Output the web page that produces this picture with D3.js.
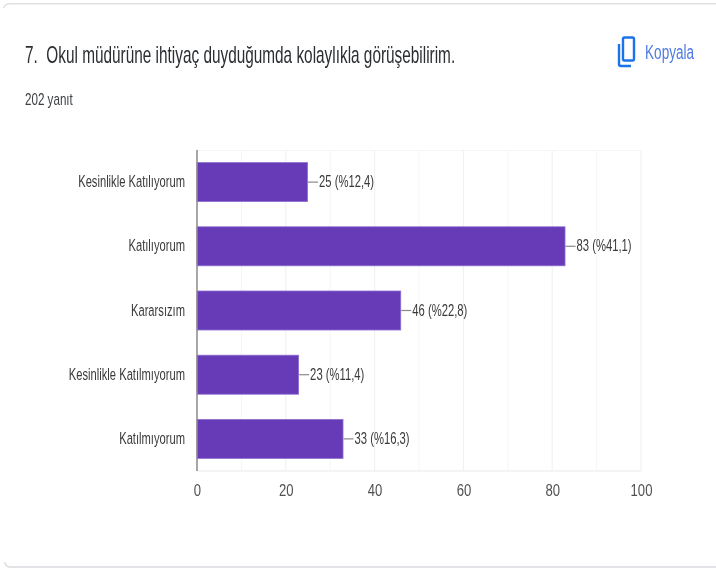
<!DOCTYPE html>
<html>
<head>
<meta charset="utf-8">
<script src="https://cdn.jsdelivr.net/npm/d3@7"></script>
<style>
  html, body { margin: 0; padding: 0; background: #fff; }
  svg { display: block; }
  text { font-family: "Liberation Sans", sans-serif; filter: blur(0.3px); }
</style>
</head>
<body>
<div id="chart"></div>
<script>
// responses per answer
const categories = ["Kesinlikle Katılıyorum", "Katılıyorum", "Kararsızım", "Kesinlikle Katılmıyorum", "Katılmıyorum"];
const counts = [25, 83, 46, 23, 33];
const percents = ["12,4", "41,1", "22,8", "11,4", "16,3"];
const majorTicks = [0, 20, 40, 60, 80, 100];
const gridTicks = [10, 20, 30, 40, 50, 60, 70, 80, 90, 100];

const W = 716, H = 568;
const M = { left: 197, right: 75, top: 150, bottom: 97 };

const svg = d3.select("#chart").append("svg").attr("width", W).attr("height", H);

// the reference text is squeezed sideways, no narrow font here so scale it
function squeezed(sel, px, py, sx) {
  return sel.attr("transform", `translate(${px},${py}) scale(${sx},1)`);
}

// card edges
svg.append("path").attr("d", `M${W} 3.7H10Q5 3.7 3.5 8`).attr("fill", "none").attr("stroke", "#e2e2e2").attr("stroke-width", 1.6);
svg.append("path").attr("d", `M${W} 567H10Q6 567 4.5 562`).attr("fill", "none").attr("stroke", "#e4e4e8").attr("stroke-width", 2);

// header
svg.append("text").call(squeezed, 25, 63, 0.668).attr("font-size", 23).attr("fill", "#2b2f33")
  .attr("xml:space", "preserve").text("7.  Okul müdürüne ihtiyaç duyduğumda kolaylıkla görüşebilirim.");
svg.append("text").call(squeezed, 25, 105, 0.727).attr("font-size", 16).attr("fill", "#3c4043").text("202 yanıt");

// copy icon
const icon = svg.append("g").attr("fill", "none").attr("stroke", "#1a73e8").attr("stroke-width", 2.4);
icon.append("rect").attr("x", 623).attr("y", 37.5).attr("width", 11).attr("height", 23).attr("rx", 1.5);
icon.append("path").attr("d", "M619 44v20q0 2 2 2h10");
svg.append("text").call(squeezed, 645, 59, 0.68).attr("font-size", 20).attr("fill", "#4f7be0").text("Kopyala");

const x = d3.scaleLinear().domain([0, 100]).range([M.left, W - M.right]);
const y = d3.scaleBand().domain(categories).range([M.top, H - M.bottom]).paddingInner(0.38).paddingOuter(0.19);

// grid + plot frame
const g = svg.append("g");
g.selectAll("line.grid").data(gridTicks).join("line").attr("class", "grid")
  .attr("x1", d => x(d)).attr("x2", d => x(d))
  .attr("y1", M.top).attr("y2", H - M.bottom)
  .attr("stroke", d => d % 20 === 0 ? "#efefef" : "#f5f5f5").attr("stroke-width", 1);
g.append("line").attr("x1", x(0)).attr("x2", x(100)).attr("y1", M.top + 0.5).attr("y2", M.top + 0.5).attr("stroke", "#f5f5f5");
g.append("line").attr("x1", x(0)).attr("x2", x(100)).attr("y1", H - M.bottom).attr("y2", H - M.bottom).attr("stroke", "#f0f0f0").attr("stroke-width", 1.5);

const rows = categories.map((c, i) => ({ cat: c, n: counts[i], pct: percents[i] }));

// bars, with the pale edge the reference has
g.selectAll("rect.bar").data(rows).join("rect").attr("class", "bar")
  .attr("x", x(0)).attr("y", d => y(d.cat) + 0.4)
  .attr("width", d => x(d.n) - x(0) - 0.5).attr("height", y.bandwidth() - 0.8)
  .attr("fill", "#673ab7").attr("stroke", "#8e6fd0").attr("stroke-width", 0.8);

// leader lines and value labels
g.selectAll("line.leader").data(rows).join("line").attr("class", "leader")
  .attr("x1", d => x(d.n)).attr("x2", d => x(d.n) + 10)
  .attr("y1", d => y(d.cat) + y.bandwidth() / 2).attr("y2", d => y(d.cat) + y.bandwidth() / 2)
  .attr("stroke", "#8a8a8a").attr("stroke-width", 1.2);
g.selectAll("text.val").data(rows).join("text").attr("class", "val")
  .each(function (d) { squeezed(d3.select(this), x(d.n) + 11, y(d.cat) + y.bandwidth() / 2 + 5, 0.663); })
  .attr("font-size", 17).attr("fill", "#3a3a3a")
  .text(d => `${d.n} (%${d.pct})`);

// category labels
g.selectAll("text.cat").data(rows).join("text").attr("class", "cat")
  .each(function (d) { squeezed(d3.select(this), 185, y(d.cat) + y.bandwidth() / 2 + 5, 0.658); })
  .attr("text-anchor", "end").attr("font-size", 17).attr("fill", "#3a3a3a")
  .text(d => d.cat);

// vertical axis line
g.append("line").attr("x1", x(0)).attr("x2", x(0)).attr("y1", M.top).attr("y2", H - M.bottom).attr("stroke", "#8a8a8a").attr("stroke-width", 1.5);

// x tick labels
const xAxis = svg.append("g").attr("transform", `translate(0,${H - M.bottom})`)
  .call(d3.axisBottom(x).tickValues(majorTicks).tickSize(0).tickPadding(13));
xAxis.select(".domain").remove();
xAxis.selectAll("text").attr("font-size", 17).attr("fill", "#505050")
  .attr("transform", "scale(0.77,1)")
  .style("font-family", '"Liberation Sans", sans-serif');
</script>
</body>
</html>
